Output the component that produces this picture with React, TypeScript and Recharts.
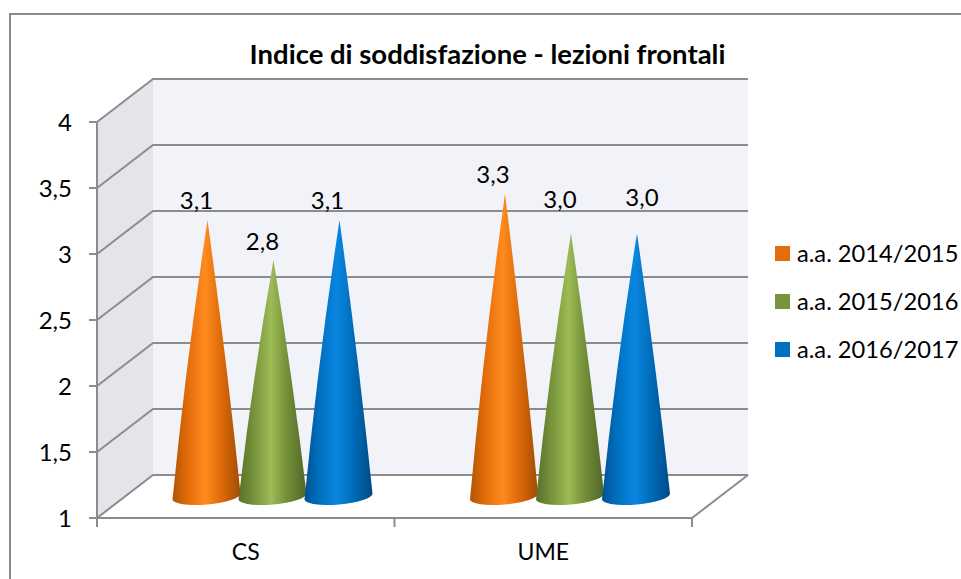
import * as React from "react"
import { Bar, BarChart, CartesianGrid, LabelList, Legend, XAxis, YAxis } from "recharts"

const CATEGORIES = ["CS", "UME"]
const SERIES_NAMES = ["a.a. 2014/2015", "a.a. 2015/2016", "a.a. 2016/2017"]
const VALUES_2014 = [3.1, 3.3]
const VALUES_2015 = [2.8, 3.0]
const VALUES_2016 = [3.1, 3.0]
const Y_TICKS = [1, 1.5, 2, 2.5, 3, 3.5, 4]

const SWATCHES = ["#e46c0a", "#77933c", "#0070c0"]
const CONE_STOPS = [
  ["#b05504", "#e26c0a", "#ff8a1e", "#dd6a0a", "#a04c03"],
  ["#587029", "#76923b", "#9dbb55", "#728e39", "#506626"],
  ["#005291", "#0070c0", "#0a86e0", "#006cb9", "#004a84"],
]
const STOP_OFFSETS = ["0%", "22%", "48%", "72%", "100%"]
// hand placed data labels in the original, offset from the cone tip
const LABEL_OFFSETS = [
  [[-11, -19], [-12, -19]],
  [[-11, -18], [-11, -34]],
  [[-12, -19], [5, -36]],
]

const FONT = "Lato, Carlito, sans-serif"
const LINE = "#8c8c8c"

const WIDTH = 961
const HEIGHT = 579
const LEFT = 97
const RIGHT = 692
const TOP = 122
const BOTTOM = 518
const LEGEND_WIDTH = 190
// depth of the fake 3D box
const DX = 56
const DY = -43
// cones stand a bit left of the middle of the box depth
const CONE_DX = DX / 2 - 1.5

const data = CATEGORIES.map((name, i) => ({
  name,
  s0: VALUES_2014[i],
  s1: VALUES_2015[i],
  s2: VALUES_2016[i],
}))

const comma = (v: number) => String(v).replace(".", ",")

// walls sit in their own svg behind the chart, Recharts paints the grid below anything custom
function Box() {
  const mid = (LEFT + RIGHT) / 2
  return (
    <svg width={WIDTH} height={HEIGHT} style={{ position: "absolute", left: 0, top: 0 }}>
      <polygon
        points={`${LEFT + DX},${TOP + DY} ${RIGHT + DX},${TOP + DY} ${RIGHT + DX},${BOTTOM + DY} ${LEFT + DX},${BOTTOM + DY}`}
        fill="#f2f3f8"
      />
      <polygon
        points={`${LEFT},${TOP} ${LEFT + DX},${TOP + DY} ${LEFT + DX},${BOTTOM + DY} ${LEFT},${BOTTOM}`}
        fill="#e4e5ea"
      />
      <polyline
        points={`${LEFT},${BOTTOM} ${RIGHT},${BOTTOM} ${RIGHT + DX},${BOTTOM + DY}`}
        fill="none"
        stroke={LINE}
        strokeWidth={2}
      />
      <line x1={LEFT} y1={TOP} x2={LEFT} y2={BOTTOM + 9} stroke={LINE} strokeWidth={2} />
      <line x1={mid} y1={BOTTOM} x2={mid} y2={BOTTOM + 9} stroke={LINE} strokeWidth={2} />
      <line x1={RIGHT} y1={BOTTOM} x2={RIGHT} y2={BOTTOM + 9} stroke={LINE} strokeWidth={2} />
      <text
        x={487.5}
        y={64}
        textAnchor="middle"
        fontFamily={FONT}
        fontWeight={700}
        fontSize={27.5}
        fill="#000"
      >
        Indice di soddisfazione - lezioni frontali
      </text>
    </svg>
  )
}

// each grid line goes up the side wall and then along the back wall
function GridLine(props: any) {
  const { x1, x2, y1 } = props
  return (
    <polyline
      key={props.key ?? y1}
      points={`${x1},${y1} ${x1 + DX},${y1 + DY} ${x2 + DX},${y1 + DY}`}
      fill="none"
      stroke={LINE}
      strokeWidth={2}
    />
  )
}

function Cone(props: any) {
  const { x, y, width, height, gradient } = props
  const cx = x + width / 2 + CONE_DX
  const tipX = cx + 1
  const tipY = y + DY / 2 + 1
  const baseY = y + height + DY / 2
  const midY = (tipY + baseY) / 2
  const rx = 34
  // flanks bulge slightly, straight sides looked too thin
  return (
    <path
      d={`M${tipX},${tipY} Q${cx + rx / 2 + 3},${midY} ${cx + rx},${baseY - 3} A${rx} 8 -5 0 1 ${cx - rx},${baseY + 3} Q${cx - rx / 2 - 3},${midY} ${tipX},${tipY} Z`}
      fill={`url(#${gradient})`}
    />
  )
}

function ConeLabel(series: number) {
  return (props: any) => {
    const { x, y, width, index, value } = props
    const [ox, oy] = LABEL_OFFSETS[series][index]
    return (
      <text
        x={x + width / 2 + CONE_DX + 1 + ox}
        y={y + DY / 2 + 1 + oy + 8}
        textAnchor="middle"
        fontFamily={FONT}
        fontSize={24}
        fill="#000"
      >
        {Number(value).toFixed(1).replace(".", ",")}
      </text>
    )
  }
}

function LegendList(props: any) {
  return (
    <div>
      {(props.payload ?? []).map((entry: any) => (
        <div key={entry.value} style={{ display: "flex", alignItems: "center", height: 48 }}>
          <span style={{ width: 15, height: 15, background: entry.color, marginRight: 7 }} />
          <span style={{ fontFamily: FONT, fontSize: 23.7, color: "#000", whiteSpace: "nowrap" }}>
            {entry.value}
          </span>
        </div>
      ))}
    </div>
  )
}

export default function App() {
  return (
    <div style={{ position: "absolute", left: 0, top: 0, width: WIDTH, height: HEIGHT, background: "#fff", overflow: "hidden" }}>
      <div
        style={{
          position: "absolute",
          left: 9,
          top: 13,
          width: WIDTH + 20,
          height: HEIGHT,
          border: "2px solid #8a8a8a",
          boxSizing: "border-box",
        }}
      />
      <Box />
      <div style={{ position: "absolute", left: 0, top: 0, width: WIDTH, height: HEIGHT }}>
        <BarChart
          width={WIDTH}
          height={HEIGHT}
          data={data}
          barSize={66}
          barGap={0}
          margin={{ left: LEFT - 60, right: WIDTH - RIGHT - LEGEND_WIDTH, top: TOP, bottom: HEIGHT - BOTTOM - 40 }}
        >
          <defs>
            {CONE_STOPS.map((stops, i) => (
              <linearGradient key={i} id={`cone${i}`} x1="0" y1="0" x2="1" y2="0">
                {stops.map((color, j) => (
                  <stop key={j} offset={STOP_OFFSETS[j]} stopColor={color} />
                ))}
              </linearGradient>
            ))}
          </defs>
          <CartesianGrid vertical={false} horizontal={GridLine as any} />
          <XAxis
            dataKey="name"
            height={40}
            axisLine={false}
            tickLine={false}
            tickMargin={20}
            tick={{ fontFamily: FONT, fontSize: 23, fill: "#000" }}
          />
          <YAxis
            width={60}
            domain={[1, 4]}
            ticks={Y_TICKS}
            tickFormatter={comma}
            axisLine={false}
            tickSize={8}
            tickMargin={17}
            tickLine={{ stroke: LINE, strokeWidth: 2 }}
            tick={{ fontFamily: FONT, fontSize: 24, fill: "#000" }}
          />
          <Legend
            layout="vertical"
            align="right"
            verticalAlign="top"
            wrapperStyle={{ left: 775, top: 229, width: LEGEND_WIDTH }}
            content={LegendList}
          />
          {["s0", "s1", "s2"].map((key, i) => (
            <Bar
              key={key}
              dataKey={key}
              name={SERIES_NAMES[i]}
              fill={SWATCHES[i]}
              isAnimationActive={false}
              shape={(p: any) => <Cone {...p} gradient={`cone${i}`} />}
            >
              <LabelList dataKey={key} content={ConeLabel(i)} />
            </Bar>
          ))}
        </BarChart>
      </div>
    </div>
  )
}
